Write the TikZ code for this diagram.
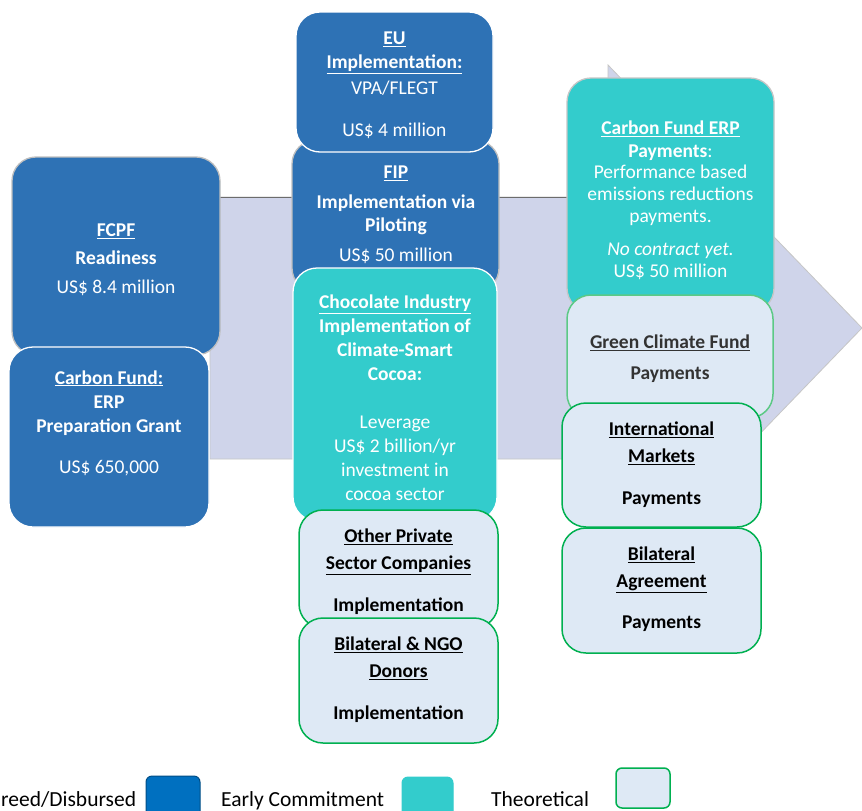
\documentclass[tikz,border=0pt]{standalone}
\usepackage{fontspec}
\setmainfont{Carlito}
\definecolor{cblue}{HTML}{2E72B5}
\definecolor{lblue}{HTML}{0070C0}
\definecolor{cteal}{HTML}{33CCCC}
\definecolor{clight}{HTML}{DEE9F5}
\definecolor{cgreen}{HTML}{00B050}
\definecolor{cgreenl}{HTML}{5CC985}
\definecolor{carrow}{HTML}{CFD4EA}
\newcommand\rbox[6]{%
  \pgfmathsetmacro\rbw{#5-#3}\pgfmathsetmacro\rbh{#6-#4}%
  \pgfmathsetmacro\rbx{(#3+#5)/2}\pgfmathsetmacro\rby{(#4+#6)/2}%
  \node[#1, minimum width=\rbw pt, minimum height=\rbh pt] (#2) at (\rbx,\rby) {};}
\newcommand\ub[1]{\underline{\textbf{#1}}}
\begin{document}
\begin{tikzpicture}[x=1pt,y=-1pt,
  box/.style={rectangle, rounded corners=24pt, inner sep=0pt, line width=1.3pt},
  bluebox/.style={box, fill=cblue, draw=white},
  blueblur/.style={box, fill=cblue, draw=gray!50},
  tealbox/.style={box, fill=cteal, draw=white},
  tealblur/.style={box, fill=cteal, draw=gray!45},
  lightbox/.style={box, fill=clight, draw=cgreen, line width=1.5pt},
  lightblur/.style={box, fill=clight, draw=cgreenl, line width=1.5pt},
  txt/.style={align=center, inner sep=0pt, font=\fontsize{19.5}{24}\selectfont},
  wtxt/.style={txt, text=white},
  btxt/.style={txt, text=black},
  legtxt/.style={inner sep=0pt, font=\fontsize{21.5}{26}\selectfont, text=black}
]
\clip (0,0) rectangle (862,811);
\fill[white] (0,0) rectangle (862,811);

% big background arrow
\path[fill=carrow, draw=gray!45, line width=0.8pt]
  (210,197) -- (608,197) -- (608,65) -- (862,328) -- (608,591) -- (608,459) -- (210,459) -- cycle;
\draw[gray!85!black, line width=1pt] (210,197) -- (608,197);

% left column
\rbox{blueblur}{fcpf}{12}{157}{220}{355}
\node[wtxt] (fcpf-t) at (116,260) {\ub{FCPF}\\[4pt] \textbf{Readiness}\\[5pt] US\$ 8.4 million};
\rbox{bluebox}{cf}{9}{347}{209}{527}
\node[wtxt] (cf-t) at (109,423) {\ub{Carbon Fund:}\\ \textbf{ERP}\\ \textbf{Preparation Grant}\\[17pt] US\$ 650,000};

% middle column
\rbox{blueblur}{fip}{292}{140}{499}{292}
\node[wtxt] (fip-t) at (396,215) {\ub{FIP}\\[6pt] \textbf{Implementation via}\\[-1pt] \textbf{Piloting}\\[6pt] US\$ 50 million};
\rbox{bluebox}{eu}{296}{12}{493}{152}
\node[wtxt] (eu-t) at (394.5,85) {\ub{EU}\\ \ub{Implementation:}\\[2pt] VPA/FLEGT\\[18pt] US\$ 4 million};
\rbox{tealbox}{choc}{293}{268}{497}{521}
\node[wtxt] (choc-t) at (395,398) {\ub{Chocolate Industry}\\ \textbf{Implementation of}\\ \textbf{Climate-Smart}\\ \textbf{Cocoa:}\\[24pt] Leverage\\ US\$ 2 billion/yr\\ investment in\\ cocoa sector};
\rbox{lightbox}{opc}{299}{510}{498}{628}
\node[btxt] (opc-t) at (398.5,572) {\ub{Other Private}\\[3pt] \ub{Sector Companies}\\[18pt] \textbf{Implementation}};
\rbox{lightbox}{ngo}{299}{618}{498}{743}
\node[btxt] (ngo-t) at (398.5,680) {\ub{Bilateral \& NGO}\\[3pt] \ub{Donors}\\[18pt] \textbf{Implementation}};

% right column
\rbox{tealblur}{erp}{567}{78}{774}{312}
\node[wtxt] (erp-t) at (670.5,200) {\ub{Carbon Fund ERP}\\[-1pt] \textbf{Payments}:\\[-3pt] Performance based\\[-2pt] emissions reductions\\[-2pt] payments.\\[9pt] \textit{No contract yet.}\\[-2pt] US\$ 50 million};
\rbox{lightblur}{gcf}{567}{295}{773}{418}
\node[txt, text=black!80] (gcf-t) at (670,359) {\ub{Green Climate Fund}\\[7pt] \textbf{Payments}};
\rbox{lightbox}{intl}{562}{403}{761}{527}
\node[btxt] (intl-t) at (661.5,465) {\ub{International}\\[3pt] \ub{Markets}\\[18pt] \textbf{Payments}};
\rbox{lightbox}{bil}{562}{528}{761}{653}
\node[btxt] (bil-t) at (661.5,589) {\ub{Bilateral}\\[3pt] \ub{Agreement}\\[17pt] \textbf{Payments}};

% legend
\node[legtxt, anchor=base west] (leg1) at (1,806) {reed/Disbursed};
\draw[fill=lblue, draw=lblue!70!black, line width=1pt, rounded corners=6pt] (146,776) rectangle (200,818);
\node[legtxt, anchor=base west] (leg2) at (221,806) {Early Commitment};
\draw[fill=cteal, draw=cteal, line width=1pt, rounded corners=6pt] (402,777) rectangle (453,818);
\node[legtxt, anchor=base west] (leg3) at (491,806) {Theoretical};
\draw[fill=clight, draw=cgreen, line width=1.5pt, rounded corners=6pt] (616,768) rectangle (670,808);
\end{tikzpicture}
\end{document}
